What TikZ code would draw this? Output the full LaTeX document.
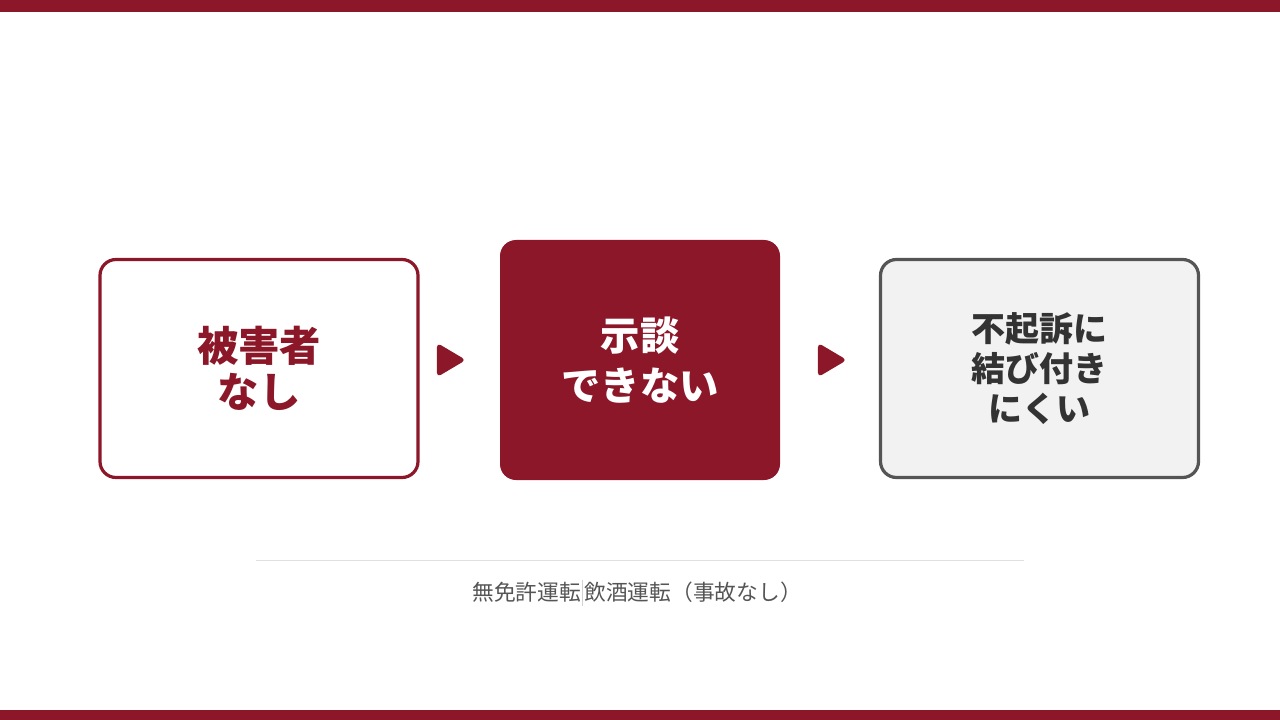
\documentclass[tikz,border=0pt]{standalone}
\usepackage{fontspec}
\newfontfamily\cjk{Noto Sans CJK JP}
\usetikzlibrary{calc}
\definecolor{crim}{HTML}{8C1729}
\definecolor{darkg}{HTML}{555555}
\definecolor{lightf}{HTML}{F2F2F2}
\tikzset{
  box/.style={rounded corners=12pt, minimum width=238.5pt, minimum height=163.5pt, line width=2.4pt, align=center, font=\cjk\bfseries, inner sep=0pt},
  tri/.style={fill=crim, draw=crim, line width=1pt, rounded corners=2.5pt},
}
\begin{document}
\begin{tikzpicture}[x=0.75pt,y=-0.75pt]
\useasboundingbox (0,0) rectangle (1280,720);
\fill[crim] (0,0) rectangle (1280,12);
\fill[crim] (0,710) rectangle (1280,720);
\node[box, draw=crim, fill=white, text=crim, font=\cjk\bfseries\fontsize{31pt}{34.5pt}\selectfont] (a) at (259,368.5) {\raisebox{2pt}{被害者}\\\raisebox{2pt}{なし}};
\node[box, fill=crim, text=white, minimum width=210pt, minimum height=180pt, font=\cjk\bfseries\fontsize{29.5pt}{37pt}\selectfont] (b) at (640,360) {示談\\できない};
\node[box, draw=darkg, fill=lightf, text=black!80, font=\cjk\bfseries\fontsize{25.5pt}{30pt}\selectfont] (c) at (1039.5,368.5) {\raisebox{1.5pt}{不起訴に}\\\raisebox{1.5pt}{結び付き}\\\raisebox{1.5pt}{にくい}};
\coordinate (t1) at ($(a.east)+(31,-8.5)$);
\coordinate (t2) at ($(b.east)+(50,0)$);
\draw[tri] ($(t1)+(-13,-16)$) -- ($(t1)+(14,0)$) -- ($(t1)+(-13,16)$) -- cycle;
\draw[tri] ($(t2)+(-13,-16)$) -- ($(t2)+(14,0)$) -- ($(t2)+(-13,16)$) -- cycle;
\coordinate (l1) at (256,560.5);
\coordinate (l2) at (1024,560.5);
\draw[black!12, line width=0.8pt] (l1) -- (l2);
\node[font=\cjk\fontsize{16.3pt}{19pt}\selectfont, text=darkg, inner sep=0pt] (f) at (637,593) {無免許運転\hspace{1pt}\textcolor{black!18}{\rule[-0.25em]{0.6pt}{1.2em}}\hspace{1pt}飲酒運転（事故なし）};
\end{tikzpicture}
\end{document}
